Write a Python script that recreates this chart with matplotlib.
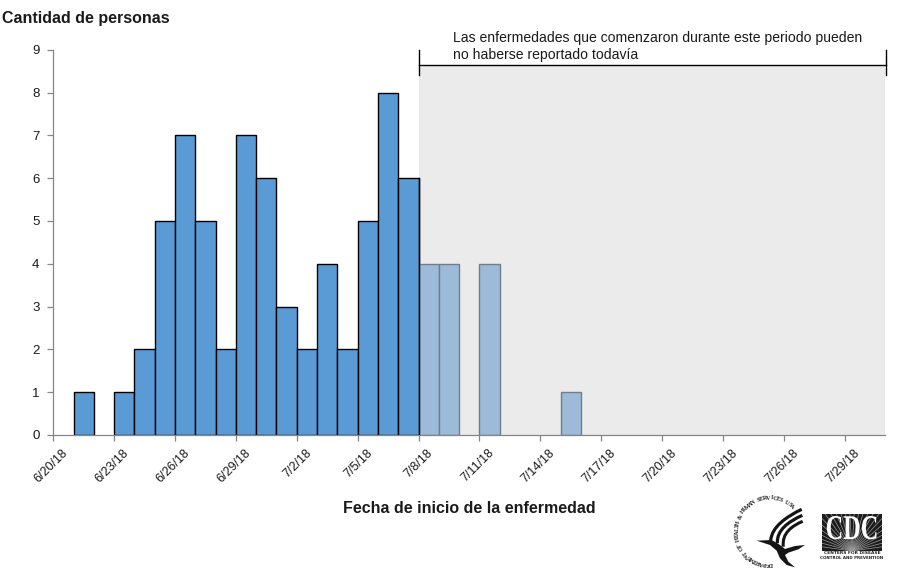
import numpy as np
import matplotlib
matplotlib.use("Agg")
import matplotlib.pyplot as plt
import matplotlib.patheffects as pe
from matplotlib.patches import Rectangle, Polygon, PathPatch
from matplotlib.path import Path
from matplotlib.transforms import Affine2D

plt.rcParams['font.family'] = ['Liberation Sans', 'DejaVu Sans']

W, H = 908, 568
tick_labels = ['6/20/18', '6/23/18', '6/26/18', '6/29/18', '7/2/18', '7/5/18', '7/8/18',
               '7/11/18', '7/14/18', '7/17/18', '7/20/18', '7/23/18', '7/26/18', '7/29/18']
reported = [0, 1, 0, 1, 2, 5, 7, 5, 2, 7, 6, 3, 2, 4, 2, 5, 8, 6]
pending = [4, 4, 0, 4, 0, 0, 0, 1]
n_days = 41
y_title = 'Cantidad de personas'
x_title = 'Fecha de inicio de la enfermedad'
note = 'Las enfermedades que comenzaron durante este periodo pueden\nno haberse reportado todavía'
seal = 'DEPARTMENT OF HEALTH & HUMAN SERVICES USA'

fig = plt.figure(figsize=(W / 100, H / 100), dpi=100)
L, R, T, B = 53.3, 885.2, 49.8, 434.9
ax = fig.add_axes([L / W, 1 - B / H, (R - L) / W, (B - T) / H])
ax.set_xlim(0, n_days)
ax.set_ylim(0, 9)

start_pending = len(reported)
ax.add_patch(Rectangle((start_pending, 0), n_days - start_pending, 8.65, fc='#ebebeb', ec='none', zorder=0))

x1 = np.arange(len(reported))
keep1 = [v > 0 for v in reported]
ax.bar(x1[keep1], np.array(reported)[keep1], width=1, align='edge', color='#5b9bd5',
       edgecolor='black', linewidth=1.0, zorder=2)
x2 = start_pending + np.arange(len(pending))
keep2 = [v > 0 for v in pending]
ax.bar(x2[keep2], np.array(pending)[keep2], width=1, align='edge', color='#9dbad9',
       edgecolor='#6f7d8c', linewidth=1.0, zorder=2)
ax.axvline(start_pending, ymin=0, ymax=6 / 9, color='black', lw=1.0, zorder=3)

for s in ['top', 'right']:
    ax.spines[s].set_visible(False)
for s in ['left', 'bottom']:
    ax.spines[s].set_color('#868686')
    ax.spines[s].set_linewidth(0.9)
ax.set_yticks(range(10))
ax.set_xticks(np.arange(0, n_days, 3))
ax.set_xticklabels(tick_labels, rotation=45, ha='right', rotation_mode='anchor')
ax.tick_params(axis='y', direction='out', length=4, width=0.9, color='#868686', labelsize=9.5, pad=6,
               labelcolor='#1a1a1a')
ax.tick_params(axis='x', direction='out', length=4, width=0.9, color='#868686', labelsize=9, pad=0,
               labelcolor='#1a1a1a')
for lab in ax.get_xticklabels():
    lab.set_transform(lab.get_transform() + Affine2D().translate(8.5, -6.5))

# overlay in pixel coordinates
ov = fig.add_axes([0, 0, 1, 1])
ov.set_xlim(0, W)
ov.set_ylim(H, 0)
ov.axis('off')
ov.patch.set_alpha(0)
ov.plot([419, 885.5], [65, 65], color='black', lw=1.0)
ov.plot([419, 419], [49.5, 75], color='black', lw=1.0)
ov.plot([885.5, 885.5], [49.5, 75], color='black', lw=1.0)
ov.text(452.8, 46.5, note, fontsize=10.05, va='center', ha='left', color='#1a1a1a', linespacing=1.3)
ov.text(2.5, 19, y_title, fontsize=11.5, fontweight='bold', va='center', ha='left', color='#1a1a1a')
ov.text(469, 508.5, x_title, fontsize=11.5, fontweight='bold', va='center', ha='center', color='#1a1a1a')


class SquashX(pe.AbstractPathEffect):
    """Narrow a text about a vertical line given in display pixels."""
    def __init__(self, centre, factor):
        super().__init__()
        self.centre, self.factor = centre, factor

    def draw_path(self, renderer, gc, tpath, affine, rgbFace=None):
        squash = Affine2D().translate(-self.centre, 0).scale(self.factor, 1).translate(self.centre, 0)
        renderer.draw_path(gc, tpath, affine + squash, rgbFace)


# CDC logo
box = Rectangle((822, 514), 60, 36.5, fc='#1c1c1c', ec='none')
ov.add_patch(box)
for ang in np.linspace(8, 172, 26):
    a = np.radians(ang)
    ray, = ov.plot([852, 852 + 60 * np.cos(a)], [551, 551 - 60 * np.sin(a)], color='#9a9a9a', lw=0.5)
    ray.set_clip_path(box)
ov.text(852, 530.5, 'CDC', fontsize=25, family='Liberation Serif', fontweight='bold', color='white',
        ha='center', va='center', path_effects=[SquashX(852, 0.70)])
ov.text(852, 553.2, 'CENTERS FOR DISEASE', fontsize=3.2, family='DejaVu Sans', fontweight='bold',
        ha='center', va='center', color='#222222')
ov.text(852, 557.8, 'CONTROL AND PREVENTION', fontsize=2.9, family='DejaVu Sans', fontweight='bold',
        ha='center', va='center', color='#222222')

# HHS seal lettering, clockwise from the bottom
cx, cy, rad = 770, 531, 33
for ch, a in zip(seal, np.linspace(272, 48, len(seal))):
    r = np.radians(a)
    ov.text(cx + rad * np.cos(r), cy - rad * np.sin(r), ch, fontsize=4.6, family='Liberation Serif',
            fontweight='bold', ha='center', va='center', rotation=a - 90, rotation_mode='anchor',
            color='#222222')


def zoomed(points):
    return [(730 + x / 3, 490 + y / 3) for x, y in points]


def stroke(points, lw):
    codes = [Path.MOVETO] + [Path.CURVE4] * (len(points) - 1)
    ov.add_patch(PathPatch(Path(zoomed(points), codes), fc='none', ec='#151515', lw=lw, capstyle='butt'))


stroke([(215, 58), (170, 80), (125, 110), (122, 152)], 2.3)
stroke([(217, 76), (175, 95), (140, 120), (142, 160)], 2.3)
stroke([(218, 94), (185, 108), (155, 130), (160, 170)], 2.2)
ov.add_patch(Polygon(zoomed([(80, 152), (125, 150), (150, 165), (165, 177), (195, 168), (225, 165), (205, 178),
                             (175, 188), (165, 195), (175, 215), (195, 232), (170, 225), (150, 205),
                             (140, 182), (120, 165)]),
                     closed=True, fc='#151515', ec='none'))

fig.savefig('out.png', dpi=100, facecolor='white')
